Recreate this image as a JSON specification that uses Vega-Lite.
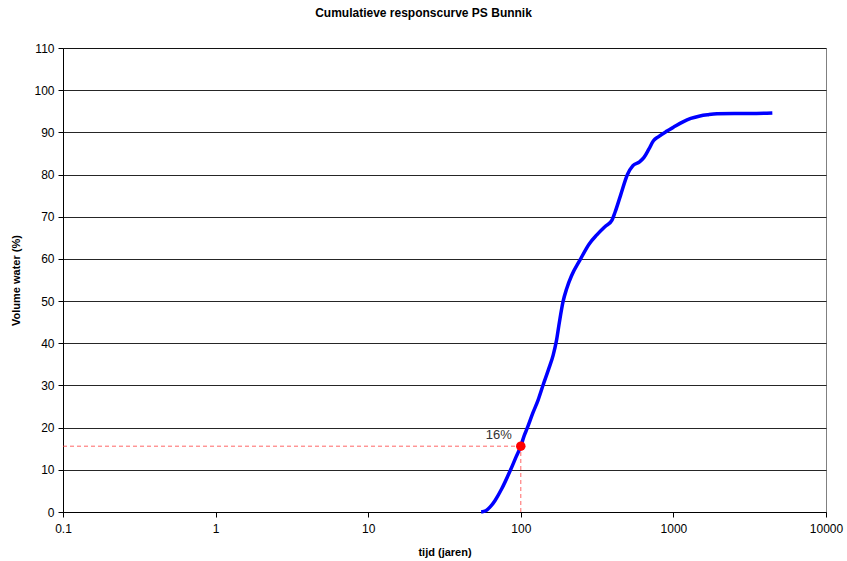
{
  "$schema": "https://vega.github.io/schema/vega-lite/v6.json",
  "autosize": "none",
  "width": 763,
  "height": 464,
  "padding": {"left": 63, "top": 48, "right": 21, "bottom": 49},
  "background": "white",
  "config": {
    "font": "Liberation Sans",
    "view": {"stroke": "#808080", "strokeWidth": 1}
  },
  "title": {
    "text": "Cumulatieve responscurve PS Bunnik",
    "fontSize": 12,
    "fontWeight": "bold",
    "font": "Liberation Sans",
    "color": "#000000",
    "offset": 22,
    "dx": -21
  },
  "datasets": {
    "curve": [
      {"t": 55, "v": 0}, {"t": 59, "v": 0.3}, {"t": 63, "v": 1.2}, {"t": 68, "v": 2.8},
      {"t": 75, "v": 5.5}, {"t": 85, "v": 9.7}, {"t": 93, "v": 13}, {"t": 100, "v": 15.6},
      {"t": 105, "v": 18}, {"t": 110, "v": 19.8}, {"t": 120, "v": 23.5}, {"t": 130, "v": 26.6},
      {"t": 140, "v": 30.1}, {"t": 152, "v": 33.8}, {"t": 163, "v": 37.2}, {"t": 171, "v": 40.5},
      {"t": 179, "v": 45}, {"t": 189, "v": 49.8}, {"t": 200, "v": 53}, {"t": 215, "v": 56},
      {"t": 244, "v": 59.7}, {"t": 280, "v": 63.5}, {"t": 315, "v": 65.7}, {"t": 360, "v": 67.8},
      {"t": 396, "v": 69.2}, {"t": 414, "v": 71}, {"t": 450, "v": 75}, {"t": 500, "v": 80},
      {"t": 543, "v": 82.1}, {"t": 600, "v": 83}, {"t": 640, "v": 84}, {"t": 690, "v": 86},
      {"t": 740, "v": 88}, {"t": 800, "v": 89}, {"t": 908, "v": 90.3}, {"t": 1000, "v": 91.2},
      {"t": 1156, "v": 92.5}, {"t": 1300, "v": 93.3}, {"t": 1493, "v": 93.9}, {"t": 1700, "v": 94.2},
      {"t": 1932, "v": 94.4}, {"t": 2500, "v": 94.5}, {"t": 3500, "v": 94.5}, {"t": 4450, "v": 94.6}
    ],
    "hline": [{"t": 0.1, "v": 15.6}, {"t": 100, "v": 15.6}],
    "vline": [{"t": 100, "v": 0}, {"t": 100, "v": 15.6}],
    "marker": [{"t": 100, "v": 15.6, "label": "16%"}]
  },
  "layer": [
    {
      "data": {"name": "hline"},
      "mark": {"type": "line", "color": "#ff3333", "strokeWidth": 1, "strokeDash": [4, 3], "opacity": 0.75},
      "encoding": {
        "x": {"field": "t", "type": "quantitative", "scale": {"type": "log", "domain": [0.1, 10000]},
          "axis": {
            "values": [0.1, 1, 10, 100, 1000, 10000],
            "format": "~g",
            "title": "tijd (jaren)",
            "titleFontSize": 11,
            "titleFontWeight": "bold",
            "titleColor": "#000000",
            "titlePadding": 12,
            "labelFontSize": 12,
            "labelColor": "#000000",
            "labelPadding": 6,
            "domainColor": "#000000",
            "tickColor": "#000000",
            "tickSize": 5,
            "grid": false,
            "labelFlush": false
          }},
        "y": {"field": "v", "type": "quantitative", "scale": {"domain": [0, 110], "nice": false},
          "axis": {
            "values": [0, 10, 20, 30, 40, 50, 60, 70, 80, 90, 100, 110],
            "title": "Volume water (%)",
            "titleFontSize": 11,
            "titleFontWeight": "bold",
            "titleColor": "#000000",
            "titlePadding": 12,
            "labelFontSize": 12,
            "labelColor": "#000000",
            "labelPadding": 4,
            "domainColor": "#000000",
            "tickColor": "#000000",
            "tickSize": 5,
            "grid": true,
            "gridColor": "#000000",
            "gridOpacity": 0.85,
            "gridWidth": 1
          }}
      }
    },
    {
      "data": {"name": "vline"},
      "mark": {"type": "line", "color": "#ff3333", "strokeWidth": 1, "strokeDash": [4, 3], "opacity": 0.75},
      "encoding": {
        "x": {"field": "t", "type": "quantitative"},
        "y": {"field": "v", "type": "quantitative"}
      }
    },
    {
      "data": {"name": "curve"},
      "mark": {"type": "line", "color": "#0000ff", "strokeWidth": 3.5, "interpolate": "monotone"},
      "encoding": {
        "x": {"field": "t", "type": "quantitative"},
        "y": {"field": "v", "type": "quantitative"}
      }
    },
    {
      "data": {"name": "marker"},
      "mark": {"type": "point", "filled": true, "color": "#ff0000", "size": 90, "opacity": 1},
      "encoding": {
        "x": {"field": "t", "type": "quantitative"},
        "y": {"field": "v", "type": "quantitative"}
      }
    },
    {
      "data": {"name": "marker"},
      "mark": {"type": "text", "fontSize": 13, "color": "#333333", "dx": -22, "dy": -11, "font": "Liberation Sans"},
      "encoding": {
        "x": {"field": "t", "type": "quantitative"},
        "y": {"field": "v", "type": "quantitative"},
        "text": {"field": "label"}
      }
    }
  ]
}
